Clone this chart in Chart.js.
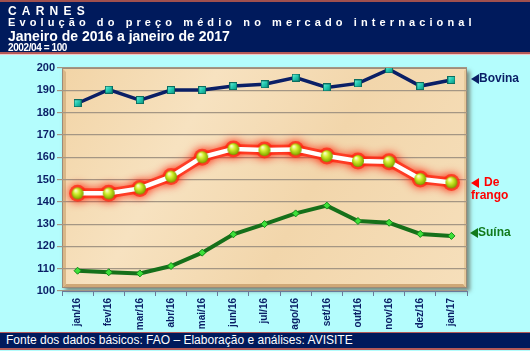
<!DOCTYPE html>
<html>
<head>
<meta charset="utf-8">
<script src="https://cdn.jsdelivr.net/npm/chart.js@4.4.1/dist/chart.umd.min.js"></script>
<style>
  html, body { margin: 0; padding: 0; }
  body { width: 530px; height: 351px; background: #b4fdfd; position: relative; overflow: hidden; font-family: "Liberation Sans", Arial, sans-serif; }
  #chart { position: absolute; left: 0; top: 0; }
  .head { position: absolute; left: 0; top: 0; width: 530px; height: 50px; background: #001a5c;
          border-top: 2px solid #a0504e; border-bottom: 2px solid #b45a58; box-shadow: 0 1px 0 #f0c8c8; color: #fff; font-weight: bold; }
  .head div { position: absolute; left: 8px; white-space: nowrap; }
  .t1 { top: 2px; font-size: 12px; letter-spacing: 5.2px; }
  .t2 { top: 14px; font-size: 11px; letter-spacing: 4.1px; }
  .t3 { top: 26px; font-size: 14px; }
  .t4 { top: 40px; font-size: 10px; letter-spacing: -0.4px; }
  .foot { position: absolute; left: 0; top: 332px; width: 530px; height: 15px; background: #001a5c;
          border-top: 1px solid #b45a58; border-bottom: 2px solid #b45a58; color: #fff; font-size: 12px; line-height: 15px; }
  .foot span { position: absolute; left: 6px; }
</style>
</head>
<body>
<canvas id="chart" width="530" height="351"></canvas>
<div class="head">
  <div class="t1">CARNES</div>
  <div class="t2">Evolução do preço médio no mercado internacional</div>
  <div class="t3">Janeiro de 2016 a janeiro de 2017</div>
  <div class="t4">2002/04 = 100</div>
</div>
<div class="foot"><span>Fonte dos dados básicos: FAO – Elaboração e análises: AVISITE</span></div>
<script>
// dados
const meses = ['jan/16', 'fev/16', 'mar/16', 'abr/16', 'mai/16', 'jun/16', 'jul/16',
  'ago/16', 'set/16', 'out/16', 'nov/16', 'dez/16', 'jan/17'];
const bovina = [184.2, 190.3, 185.6, 190.1, 190.1, 191.9, 192.7, 195.7, 191.3, 193.1, 199.4, 191.9, 194.6];
const frango = [143.8, 143.8, 146.0, 151.3, 160.0, 163.7, 163.2, 163.5, 160.5, 158.3, 158.0, 150.2, 148.7];
const suina = [109.1, 108.4, 107.9, 111.2, 117.2, 125.4, 130.0, 134.8, 138.3, 131.4, 130.6, 125.6, 124.7];
const yTicks = [100, 110, 120, 130, 140, 150, 160, 170, 180, 190, 200];

const navy = '#0a1f66';

// marcadores desenhados em canvas pequenos
function esfera(r) {
  const c = document.createElement('canvas');
  c.width = c.height = r * 2 + 2;
  const g = c.getContext('2d');
  const grad = g.createRadialGradient(r - 1, r - 2, 0.5, r + 1, r + 1, r + 1);
  grad.addColorStop(0, '#fbffc8');
  grad.addColorStop(0.35, '#d4f030');
  grad.addColorStop(0.8, '#8cb000');
  grad.addColorStop(1, '#5c7400');
  g.fillStyle = grad;
  g.beginPath();
  g.arc(r + 1, r + 1, r, 0, Math.PI * 2);
  g.fill();
  return c;
}
function quadrado(s) {
  const c = document.createElement('canvas');
  c.width = c.height = s;
  const g = c.getContext('2d');
  const grad = g.createLinearGradient(0, 0, s, s);
  grad.addColorStop(0, '#7ff5e0');
  grad.addColorStop(0.5, '#22c8b0');
  grad.addColorStop(1, '#0a8a78');
  g.fillStyle = grad;
  g.fillRect(0, 0, s, s);
  g.strokeStyle = '#0b6e60';
  g.strokeRect(0.5, 0.5, s - 1, s - 1);
  return c;
}

const fundoPlot = {
  id: 'fundoPlot',
  beforeDraw(chart) {
    const { ctx, chartArea: a } = chart;
    const l = a.left, t = a.top, w = a.right - a.left, h = a.bottom - a.top - 3;
    ctx.save();
    // sombra
    ctx.shadowColor = 'rgba(70,50,30,0.55)';
    ctx.shadowBlur = 4;
    ctx.shadowOffsetX = 3;
    ctx.shadowOffsetY = 3;
    ctx.fillStyle = '#f3d8ad';
    ctx.fillRect(l, t, w, h);
    ctx.restore();
    ctx.save();
    const grad = ctx.createLinearGradient(l, t, l + w, t + h);
    grad.addColorStop(0, '#f2d4a6');
    grad.addColorStop(0.3, '#f7e2c0');
    grad.addColorStop(0.6, '#f2d6ab');
    grad.addColorStop(1, '#f6dfbb');
    ctx.fillStyle = grad;
    ctx.fillRect(l, t, w, h);
    // bisel
    ctx.fillStyle = '#d9b787';
    ctx.beginPath();
    ctx.moveTo(l, t); ctx.lineTo(l + 4, t + 4); ctx.lineTo(l + 4, t + h - 4); ctx.lineTo(l, t + h); ctx.fill();
    ctx.fillStyle = '#cfa877';
    ctx.beginPath();
    ctx.moveTo(l, t + h); ctx.lineTo(l + 4, t + h - 4); ctx.lineTo(l + w - 4, t + h - 4); ctx.lineTo(l + w, t + h); ctx.fill();
    ctx.fillStyle = '#e6c99a';
    ctx.beginPath();
    ctx.moveTo(l + w, t); ctx.lineTo(l + w - 3, t + 3); ctx.lineTo(l + w - 3, t + h - 3); ctx.lineTo(l + w, t + h); ctx.fill();
    ctx.strokeStyle = '#9c8a78';
    ctx.lineWidth = 1;
    ctx.strokeRect(l + 0.5, t + 0.5, w - 1, h - 1);
    ctx.restore();
  }
};

// halo vermelho sob a série de frango, seguindo os pontos calculados pela escala
const brilho = {
  id: 'brilho',
  beforeDatasetDraw(chart, args) {
    const ds = chart.data.datasets[args.index];
    if (!ds.glow) return;
    const ctx = chart.ctx;
    const pts = args.meta.data;
    ctx.save();
    ctx.shadowColor = ds.glow;
    ctx.shadowBlur = 10;
    ctx.strokeStyle = 'rgba(255,40,20,0.75)';
    ctx.fillStyle = 'rgba(255,40,20,0.75)';
    ctx.lineWidth = 10;
    ctx.lineJoin = 'round';
    ctx.lineCap = 'round';
    ctx.beginPath();
    pts.forEach((p, i) => (i ? ctx.lineTo(p.x, p.y) : ctx.moveTo(p.x, p.y)));
    ctx.stroke();
    pts.forEach((p) => {
      ctx.beginPath();
      ctx.arc(p.x, p.y, 8.5, 0, Math.PI * 2);
      ctx.fill();
    });
    ctx.restore();
  }
};

const rotulos = {
  id: 'rotulos',
  afterDraw(chart) {
    const ctx = chart.ctx;
    function seta(x, y, cor) {
      ctx.fillStyle = cor;
      ctx.beginPath();
      ctx.moveTo(x, y); ctx.lineTo(x + 8, y - 5); ctx.lineTo(x + 8, y + 5); ctx.fill();
    }
    ctx.save();
    ctx.font = 'bold 12px "Liberation Sans", Arial, sans-serif';
    ctx.textBaseline = 'middle';
    seta(471, 79, navy);
    ctx.fillStyle = navy;
    ctx.fillText('Bovina', 479, 79);
    seta(471, 183, '#ff0000');
    ctx.fillStyle = '#ff0000';
    ctx.fillText('De', 484, 183);
    ctx.fillText('frango', 471, 196);
    seta(470, 233, '#117a1c');
    ctx.fillStyle = '#117a1c';
    ctx.fillText('Suína', 478, 233);
    ctx.restore();
  }
};

new Chart(document.getElementById('chart'), {
  type: 'line',
  data: {
    labels: meses,
    datasets: [
      {
        label: 'Bovina',
        data: bovina,
        borderColor: navy,
        borderWidth: 3.5,
        pointStyle: quadrado(8),
        pointRadius: 4,
        tension: 0,
      },
      {
        label: 'De frango',
        data: frango,
        borderColor: '#ffffff',
        borderWidth: 4.5,
        pointStyle: esfera(6),
        pointRadius: 6,
        glow: '#ff1a00',
        tension: 0,
      },
      {
        label: 'Suína',
        data: suina,
        borderColor: '#16701a',
        borderWidth: 4,
        pointStyle: 'rectRot',
        pointRadius: 3.5,
        pointBackgroundColor: '#3ee03a',
        pointBorderColor: '#138a18',
        pointBorderWidth: 1,
        tension: 0,
      },
    ],
  },
  options: {
    responsive: false,
    animation: false,
    layout: { padding: { left: 0, right: 63, top: 68, bottom: 0 } },
    plugins: { legend: { display: false }, tooltip: { enabled: false } },
    scales: {
      x: {
        offset: true,
        afterFit: (s) => { s.height = 60; },
        grid: { offset: true, drawOnChartArea: false, tickLength: 5, color: '#6a7a9a' },
        border: { color: '#6a7a9a' },
        ticks: {
          maxRotation: 90, minRotation: 90, autoSkip: false, padding: 2,
          color: navy, font: { family: '"Liberation Sans", Arial', size: 10, weight: 'bold' },
        },
      },
      y: {
        min: 100, max: 200,
        afterFit: (s) => { s.width = 62; },
        afterBuildTicks: (s) => { s.ticks = yTicks.map((v) => ({ value: v })); },
        grid: { color: '#a49684', lineWidth: 1.2, tickLength: 5 },
        border: { display: false },
        ticks: {
          padding: 2,
          color: navy, font: { family: '"Liberation Sans", Arial', size: 11, weight: 'bold' },
        },
      },
    },
  },
  plugins: [fundoPlot, brilho, rotulos],
});
</script>
</body>
</html>
